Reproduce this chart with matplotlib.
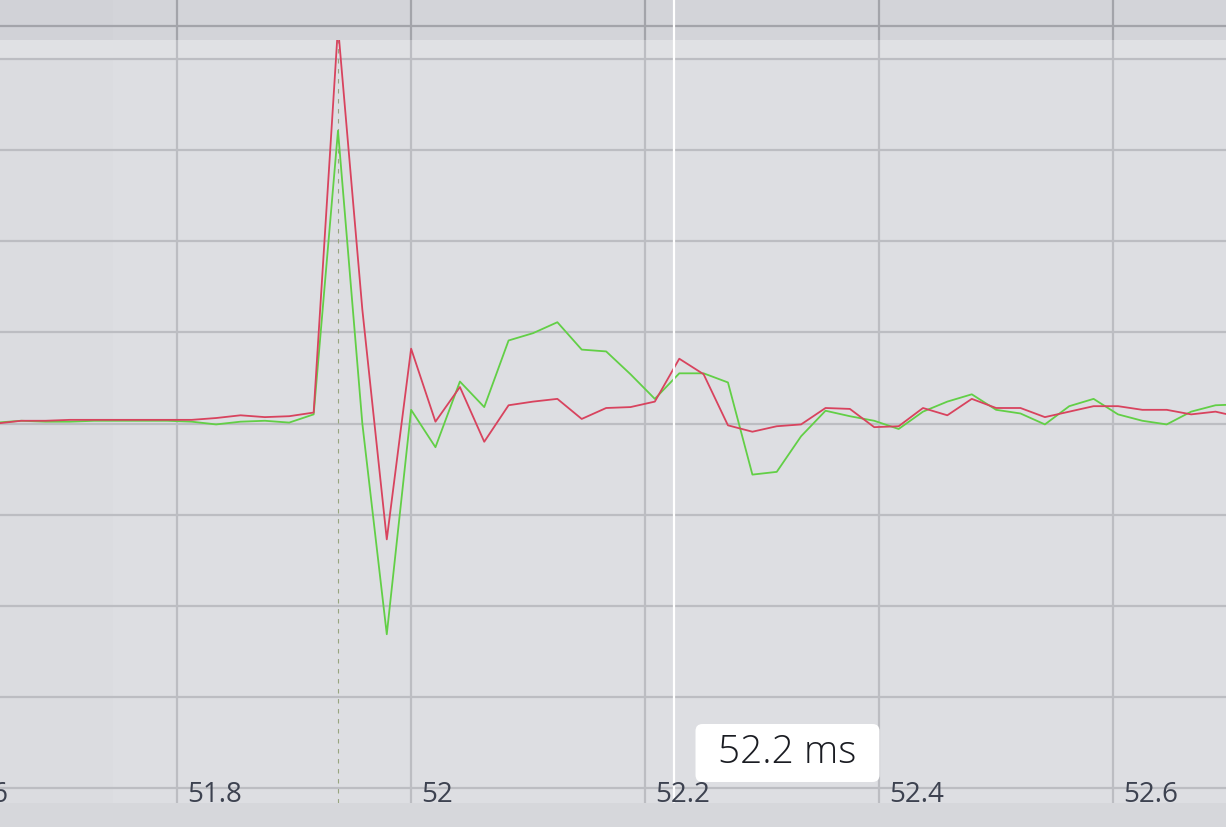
import matplotlib
matplotlib.use("Agg")
import matplotlib.pyplot as plt
import matplotlib.transforms as mtransforms
from matplotlib.patches import FancyBboxPatch

plt.rcParams['font.family'] = ['Open Sans', 'DejaVu Sans']

# sample times (ms), 48 kHz
t_ms = [51.6459, 51.6668, 51.6876, 51.7084, 51.7293, 51.7501, 51.7709,
        51.7918, 51.8126, 51.8334, 51.8543, 51.8751, 51.8959, 51.9168,
        51.9376, 51.9584, 51.9793, 52.0001, 52.0209, 52.0418, 52.0626,
        52.0834, 52.1043, 52.1251, 52.1459, 52.1668, 52.1876, 52.2084,
        52.2293, 52.2501, 52.2709, 52.2918, 52.3126, 52.3334, 52.3543,
        52.3751, 52.3959, 52.4168, 52.4376, 52.4584, 52.4793, 52.5001,
        52.5209, 52.5418, 52.5626, 52.5834, 52.6043, 52.6251, 52.6459,
        52.6668, 52.6876, 52.7084]

red = [0.00, 0.03, 0.03, 0.04, 0.04, 0.04, 0.04, 0.04, 0.04, 0.06, 0.09,
       0.07, 0.08, 0.12, 4.35, 1.25, -1.27, 0.82, 0.02, 0.40, -0.20, 0.20,
       0.24, 0.27, 0.05, 0.17, 0.18, 0.24, 0.71, 0.54, -0.02, -0.09, -0.03,
       -0.01, 0.17, 0.16, -0.04, -0.03, 0.17, 0.09, 0.27, 0.17, 0.17, 0.07,
       0.13, 0.19, 0.19, 0.15, 0.15, 0.10, 0.13, 0.07]

green = [0.01, 0.03, 0.02, 0.02, 0.03, 0.03, 0.03, 0.03, 0.02, -0.01, 0.02,
         0.03, 0.01, 0.10, 3.21, 0.00, -2.31, 0.15, -0.26, 0.46, 0.18, 0.91,
         0.99, 1.11, 0.81, 0.79, 0.54, 0.27, 0.55, 0.55, 0.45, -0.56, -0.53,
         -0.14, 0.14, 0.08, 0.03, -0.06, 0.13, 0.24, 0.32, 0.15, 0.11, -0.01,
         0.19, 0.27, 0.10, 0.03, -0.01, 0.13, 0.20, 0.21]

x_ticks = [51.6, 51.8, 52.0, 52.2, 52.4, 52.6]
x_labels = ['51.6', '51.8', '52', '52.2', '52.4', '52.6']
y_grid = [-4, -3, -2, -1, 0, 1, 2, 3, 4]

peak_time = 51.9372
cursor_time = 52.2248
cursor_label = '52.2 ms'
label_pos = (52.3218, -3.611)

W, H = 1226, 827
xlim = (51.64872, 52.69658)

fig = plt.figure(figsize=(W / 100, H / 100), dpi=100)
fig.patch.set_facecolor('#dddee2')

# main plot area (pixels 40..803 from top)
ax = fig.add_axes([0, 24 / H, 1, 763 / H])
ax.set_facecolor('#dddee2')
ax.set_xlim(*xlim)
ax.set_ylim(-4.159, 4.203)
for s in ax.spines.values():
    s.set_visible(False)
ax.set_xticks([])
ax.set_yticks([])

ax.axvspan(xlim[0], 51.7457, color='#dbdce0', lw=0, zorder=0)
ax.axhspan(4.0, 4.203, color='#e0e1e4', lw=0, zorder=0)

for v in y_grid:
    ax.axhline(v, color='#bcbdc2', lw=1.6, zorder=1)
for t in x_ticks:
    ax.axvline(t, color='#bcbdc2', lw=1.6, zorder=1)

ax.axvline(peak_time, color='#98a580', lw=0.8, ls=(0, (4, 5)), zorder=2)

ax.plot(t_ms, green, color='#62cf46', lw=1.3, zorder=3)
ax.plot(t_ms, red, color='#d8435e', lw=1.3, zorder=4)

ax.axvline(cursor_time, color='white', lw=1.6, zorder=5)

trans = mtransforms.blended_transform_factory(ax.transData, ax.transAxes)
for t, lab in zip(x_ticks, x_labels):
    ax.annotate(lab, xy=(t, 0), xycoords=trans, xytext=(7.5, 1),
                textcoords='offset points', ha='left', va='baseline',
                fontsize=20, color='#3d4250', zorder=6, annotation_clip=False)

# cursor readout box, sized in pixels around the label position
fig.canvas.draw()
cx, cy = ax.transData.transform(label_pos)
box = FancyBboxPatch((cx - 92, cy - 29), 184, 58,
                     boxstyle='round,pad=0,rounding_size=7',
                     fc='white', ec='none', transform=None, zorder=7)
fig.patches.append(box)
fig.text(cx / W, cy / H, cursor_label, ha='center', va='center',
         fontsize=28, fontweight='light', color='#1a1c22', zorder=8)

# top ruler band
top = fig.add_axes([0, (H - 40) / H, 1, 40 / H])
top.set_facecolor('#d3d4d9')
top.set_xlim(*xlim)
top.set_ylim(40, 0)
for s in top.spines.values():
    s.set_visible(False)
top.set_xticks([])
top.set_yticks([])
top.axvspan(xlim[0], 51.7457, color='#d1d2d7', lw=0, zorder=0)
top.axhline(26, color='#a3a4aa', lw=1.6)
for t in x_ticks:
    top.axvline(t, color='#a3a4aa', lw=1.6)
top.axvline(cursor_time, color='white', lw=1.6)

# bottom band
bot = fig.add_axes([0, 0, 1, 24 / H])
bot.set_facecolor('#d6d7db')
bot.set_xlim(*xlim)
for s in bot.spines.values():
    s.set_visible(False)
bot.set_xticks([])
bot.set_yticks([])

fig.savefig('out.png', dpi=100, facecolor=fig.get_facecolor())
